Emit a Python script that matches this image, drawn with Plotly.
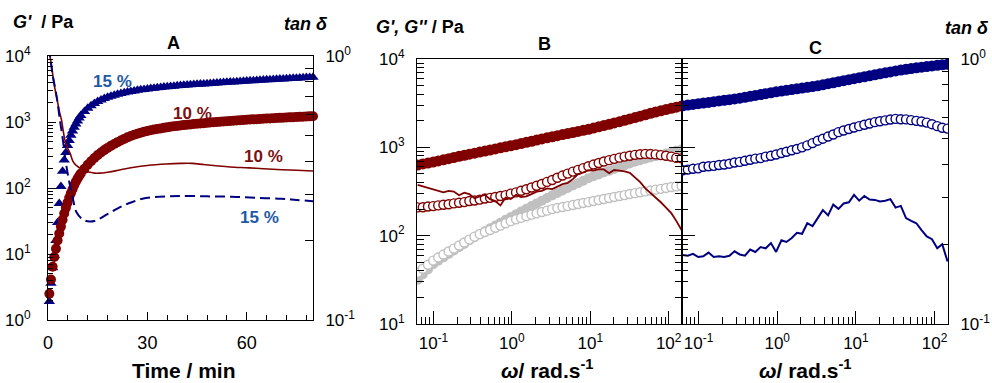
import plotly.graph_objects as go

# ---------------- Panel A: G' and tan(delta) during gelation ----------------
time_min = [0.4, 0.9, 1.4, 1.9, 2.4, 2.9, 3.4, 3.9, 4.4, 4.9,
            5.4, 5.9, 6.4, 6.9, 7.4, 7.9, 8.4, 8.9, 9.4, 9.9,
            11, 12, 13, 14, 15, 16, 17, 18, 19, 20,
            21, 22, 23, 24, 25, 26, 27, 28, 29, 30,
            31, 32, 33, 34, 35, 36, 37, 38, 39, 40,
            41, 42, 43, 44, 45, 46, 47, 48, 49, 50,
            51, 52, 53, 54, 55, 56, 57, 58, 59, 60,
            61, 62, 63, 64, 65, 66, 67, 68, 69, 70,
            71, 72, 73, 74, 75, 76, 77, 78, 79, 80]

g_storage_15 = [1.9, 3.6, 6.2, 9.5, 16, 30, 58, 105, 180, 265,
                345, 440, 525, 630, 730, 830, 930, 1040, 1150, 1250,
                1440, 1610, 1770, 1910, 2040, 2160, 2270, 2370, 2460, 2550,
                2630, 2700, 2770, 2840, 2900, 2960, 3020, 3070, 3120, 3170,
                3220, 3260, 3300, 3340, 3380, 3420, 3460, 3490, 3530, 3560,
                3590, 3630, 3660, 3690, 3720, 3750, 3780, 3810, 3840, 3870,
                3900, 3930, 3960, 3990, 4020, 4050, 4080, 4110, 4140, 4170,
                4200, 4230, 4260, 4290, 4320, 4350, 4380, 4410, 4440, 4470,
                4500, 4530, 4560, 4590, 4620, 4650, 4680, 4710, 4740, 4770]

g_storage_10 = [2.5, 4.1, 6.4, 9.0, 12, 16, 20.5, 26, 33, 41,
                50, 60, 71, 83, 96, 110, 124, 138, 152, 166,
                195, 225, 255, 285, 315, 345, 375, 405, 435, 465,
                495, 525, 555, 585, 615, 640, 665, 690, 710, 730,
                750, 768, 785, 800, 815, 830, 845, 860, 872, 885,
                897, 908, 919, 930, 940, 950, 960, 970, 980, 990,
                1000, 1009, 1018, 1027, 1036, 1045, 1054, 1063, 1072, 1080,
                1088, 1096, 1104, 1112, 1120, 1127, 1134, 1141, 1148, 1155,
                1162, 1169, 1176, 1183, 1190, 1197, 1204, 1211, 1218, 1225]

time_tan_10 = [0.3, 0.6, 1.0, 1.5, 2.1, 2.7, 3.4, 4.1, 4.6, 5.1,
               5.8, 6.6, 7.5, 8.5, 9.6, 11, 12.6, 14, 15.6, 18,
               20.7, 23, 25.5, 30, 35.7, 40, 43.5, 47, 50.7, 55,
               60.7, 65, 70.6, 75, 80]
tan_delta_10 = [1.10, 1.0, 0.93, 0.84, 0.75, 0.69, 0.62, 0.57, 0.52, 0.48,
                0.45, 0.43, 0.40, 0.385, 0.377, 0.368, 0.363, 0.36, 0.36, 0.363,
                0.368, 0.373, 0.378, 0.385, 0.39, 0.392, 0.392, 0.388, 0.384, 0.38,
                0.377, 0.374, 0.371, 0.369, 0.367]

time_tan_15 = [0.3, 0.6, 1.1, 1.6, 2.3, 3.0, 3.6, 4.1, 4.6, 5.1,
               5.6, 6.4, 7.6, 8.6, 10.6, 12.6, 14, 15.6, 17.5, 19.5,
               21.6, 23.5, 25.5, 28.5, 32, 36, 40.5, 48, 55.5, 63,
               70.5, 75, 80]
tan_delta_15 = [1.08, 1.0, 0.90, 0.82, 0.74, 0.65, 0.57, 0.52, 0.47, 0.42,
                0.38, 0.334, 0.285, 0.256, 0.24, 0.236, 0.237, 0.242, 0.25, 0.258,
                0.267, 0.274, 0.28, 0.288, 0.292, 0.294, 0.295, 0.294, 0.293, 0.29,
                0.288, 0.285, 0.282]

# ---------------- Panels B and C: frequency sweeps ----------------
omega = [0.0628, 0.0731, 0.0851, 0.0991, 0.115, 0.134, 0.156, 0.182, 0.212, 0.247,
         0.287, 0.334, 0.389, 0.453, 0.527, 0.614, 0.714, 0.832, 0.968, 1.13,
         1.31, 1.53, 1.78, 2.07, 2.41, 2.81, 3.27, 3.80, 4.43, 5.15,
         6.00, 6.98, 8.13, 9.46, 11.0, 12.8, 14.9, 17.4, 20.2, 23.6,
         27.4, 31.9, 37.2, 43.3, 50.4, 58.6, 68.2, 79.4, 92.5, 108,
         125, 146]

gp_ref = [31.6, 36.3, 41.4, 47.5, 52.0, 56.8, 61.9, 67.8, 74.0, 80.7,
          89, 96, 104, 112, 121, 130, 140, 151, 163, 175,
          188, 202, 216, 232, 249, 267, 286, 305, 324, 346,
          369, 393, 419, 447, 471, 493, 518, 542, 569, 596,
          625, 655, 686, 716, 741, 767, 794, 822, 851, 881,
          912, 944]
gpp_ref = [38.0, 42.2, 46.8, 52.2, 56.5, 61.1, 66.1, 71.4, 77.3, 83.6,
           90.2, 97.5, 104, 110, 116, 123, 130, 138, 146, 153,
           159, 166, 173, 179, 185, 192, 200, 206, 211, 216,
           222, 228, 234, 240, 247, 253, 260, 267, 274, 281,
           288, 296, 303, 310, 317, 324, 332, 339, 347, 355,
           361, 367]

gp_10 = [631, 649, 664, 681, 701, 723, 745, 767, 791, 813,
         836, 859, 883, 908, 933, 959, 986, 1014, 1042, 1072,
         1104, 1138, 1172, 1208, 1245, 1282, 1318, 1355, 1393, 1432,
         1472, 1514, 1556, 1600, 1652, 1706, 1762, 1824, 1888, 1954,
         2023, 2094, 2173, 2254, 2339, 2427, 2512, 2594, 2679, 2767,
         2851, 2931]
gpp_10 = [209, 210, 214, 216, 220, 224, 227, 232, 236, 240,
          247, 250, 256, 263, 268, 274, 281, 288, 299, 309,
          322, 335, 351, 367, 385, 406, 427, 452, 479, 504,
          531, 556, 582, 610, 638, 664, 692, 716, 741, 764,
          785, 804, 822, 836, 843, 841, 832, 817, 804, 785,
          759, 750]
tan_freq_10 = [0.335, 0.331, 0.327, 0.322, 0.320, 0.314, 0.318, 0.316, 0.306, 0.313,
               0.309, 0.298, 0.303, 0.307, 0.296, 0.291, 0.280, 0.300, 0.296, 0.307,
               0.301, 0.303, 0.309, 0.316, 0.318, 0.325, 0.323, 0.330, 0.337, 0.341,
               0.352, 0.368, 0.373, 0.381, 0.379, 0.384, 0.383, 0.371, 0.381, 0.379,
               0.377, 0.372, 0.358, 0.343, 0.325, 0.313, 0.300, 0.288, 0.275, 0.262,
               0.245, 0.226]

gp_15 = [2951, 3006, 3062, 3119, 3170, 3228, 3289, 3350, 3412, 3467,
         3532, 3606, 3690, 3776, 3864, 3954, 4055, 4150, 4246, 4335,
         4416, 4508, 4592, 4688, 4786, 4875, 4977, 5105, 5248, 5383,
         5534, 5675, 5834, 5984, 6138, 6295, 6457, 6622, 6792, 6966,
         7145, 7328, 7499, 7656, 7798, 7943, 8072, 8204, 8337, 8472,
         8590, 8710]
gpp_15 = [550, 560, 573, 578, 603, 610, 617, 631, 638, 653,
          673, 684, 705, 724, 745, 755, 785, 804, 828, 861,
          891, 925, 959, 1000, 1052, 1117, 1189, 1253, 1324, 1396,
          1486, 1549, 1614, 1679, 1738, 1803, 1862, 1928, 1972, 2018,
          2065, 2099, 2080, 2070, 2032, 1995, 1959, 1905, 1828, 1738,
          1667, 1629]
tan_freq_15 = [0.182, 0.181, 0.184, 0.179, 0.180, 0.186, 0.179, 0.180, 0.179, 0.181,
               0.188, 0.183, 0.181, 0.191, 0.187, 0.195, 0.193, 0.202, 0.187, 0.207,
               0.204, 0.211, 0.221, 0.219, 0.240, 0.234, 0.251, 0.269, 0.257, 0.282,
               0.272, 0.285, 0.288, 0.307, 0.292, 0.304, 0.295, 0.294, 0.290, 0.292,
               0.296, 0.275, 0.279, 0.251, 0.245, 0.240, 0.226, 0.214, 0.209, 0.193,
               0.200, 0.172]

# ---------------- styling ----------------
W, H = 992, 383
FONT = "Liberation Sans, Arial, sans-serif"
DARK_RED = "#800000"
NAVY = "#000080"
GRAY = "#c0c0c0"
LABEL_BLUE = "#1d5aa6"
LABEL_RED = "#7d1010"


def sup(exp):
    return "10<sup>%s</sup>" % exp


def decade_minors(lo_exp, hi_exp, lo=None, hi=None):
    vals = []
    for e in range(lo_exp, hi_exp):
        for m in range(2, 10):
            v = m * 10.0 ** e
            if (lo is None or v >= lo) and (hi is None or v <= hi):
                vals.append(v)
    return vals


def px_x(p):
    return p / W


def px_y(p):
    return 1 - p / H


fig = go.Figure()

# Panel A
fig.add_trace(go.Scatter(x=time_min, y=g_storage_15, mode="markers", xaxis="x", yaxis="y",
                         marker=dict(symbol="triangle-up", size=10, color=NAVY, line=dict(width=0)),
                         cliponaxis=False, showlegend=False))
fig.add_trace(go.Scatter(x=time_min, y=g_storage_10, mode="markers", xaxis="x", yaxis="y",
                         marker=dict(symbol="circle", size=10, color=DARK_RED, line=dict(width=0)),
                         cliponaxis=False, showlegend=False))
fig.add_trace(go.Scatter(x=time_tan_10, y=tan_delta_10, mode="lines", xaxis="x", yaxis="y2",
                         line=dict(color=DARK_RED, width=1.6, shape="spline"), showlegend=False))
fig.add_trace(go.Scatter(x=time_tan_15, y=tan_delta_15, mode="lines", xaxis="x", yaxis="y2",
                         line=dict(color=NAVY, width=2, dash="10px,5px", shape="spline"),
                         showlegend=False))

# Panel B
fig.add_trace(go.Scatter(x=omega, y=gp_ref, mode="markers", xaxis="x2", yaxis="y3",
                         marker=dict(symbol="circle", size=10, color=GRAY, line=dict(width=0)),
                         showlegend=False))
fig.add_trace(go.Scatter(x=omega, y=gpp_ref, mode="markers", xaxis="x2", yaxis="y3",
                         marker=dict(symbol="circle", size=9, color="white",
                                     line=dict(color=GRAY, width=1.4)),
                         showlegend=False))
fig.add_trace(go.Scatter(x=omega, y=gp_10, mode="markers", xaxis="x2", yaxis="y3",
                         marker=dict(symbol="circle", size=11, color=DARK_RED, line=dict(width=0)),
                         showlegend=False))
fig.add_trace(go.Scatter(x=omega, y=gpp_10, mode="markers", xaxis="x2", yaxis="y3",
                         marker=dict(symbol="circle", size=9, color="white",
                                     line=dict(color=DARK_RED, width=1.4)),
                         showlegend=False))
fig.add_trace(go.Scatter(x=omega, y=tan_freq_10, mode="lines", xaxis="x2", yaxis="y4",
                         line=dict(color=DARK_RED, width=1.8), showlegend=False))

# Panel C
fig.add_trace(go.Scatter(x=omega, y=gp_15, mode="markers", xaxis="x3", yaxis="y5",
                         marker=dict(symbol="circle", size=11, color=NAVY, line=dict(width=0)),
                         showlegend=False))
fig.add_trace(go.Scatter(x=omega, y=gpp_15, mode="markers", xaxis="x3", yaxis="y5",
                         marker=dict(symbol="circle", size=9, color="white",
                                     line=dict(color=NAVY, width=1.4)),
                         showlegend=False))
fig.add_trace(go.Scatter(x=omega, y=tan_freq_15, mode="lines", xaxis="x3", yaxis="y6",
                         line=dict(color=NAVY, width=2), showlegend=False))

common = dict(showgrid=False, zeroline=False, showline=True, linecolor="black", linewidth=1,
              automargin=False, ticks="inside", tickcolor="black", tickwidth=1,
              tickfont=dict(family=FONT, size=17, color="black"))

a_dom_y = [px_y(320), px_y(56)]
bc_dom_y = [px_y(324), px_y(59)]

freq_ticks = [0.1, 1, 10, 100]
freq_text = [sup("-1"), sup("0"), sup("1"), sup("2")]
freq_minor = decade_minors(-2, 2, lo=0.06, hi=150)
mod_ticks = [10, 100, 1000, 10000]
mod_text = [sup("1"), sup("2"), sup("3"), sup("4")]
mod_minor = decade_minors(1, 4)
tan_minor = decade_minors(-1, 0)

fig.update_layout(
    template="none",
    width=W, height=H, autosize=False,
    margin=dict(l=0, r=0, t=0, b=0, pad=0),
    paper_bgcolor="white", plot_bgcolor="white",
    font=dict(family=FONT, color="black"),
    showlegend=False,
    # Panel A axes
    xaxis=dict(common, domain=[px_x(48), px_x(313)], range=[0, 80], anchor="y", mirror=True,
               tickvals=[0, 30, 60], ticktext=["0", "30", "60"], ticklen=8,
               tickfont=dict(family=FONT, size=18, color="black"), ticklabelstandoff=6,
               minor=dict(tickvals=[6, 12, 18, 24, 36, 42, 48, 54, 66, 72, 78],
                          ticks="inside", ticklen=5, tickcolor="black", tickwidth=1)),
    yaxis=dict(common, domain=a_dom_y, type="log", range=[0, 4], anchor="x",
               tickvals=[1, 10, 100, 1000, 10000],
               ticktext=[sup("0"), sup("1"), sup("2"), sup("3"), sup("4")],
               ticklen=8, ticklabelstandoff=13,
               minor=dict(tickvals=decade_minors(0, 4), ticks="inside", ticklen=5,
                          tickcolor="black", tickwidth=1)),
    yaxis2=dict(common, overlaying="y", side="right", anchor="x", type="log", range=[-1, 0],
                tickvals=[0.1, 1], ticktext=[sup("-1"), sup("0")], ticklen=8,
                ticklabelstandoff=8,
                minor=dict(tickvals=tan_minor, ticks="inside", ticklen=8,
                           tickcolor="black", tickwidth=1)),
    # Panel B axes
    xaxis2=dict(common, domain=[px_x(417), px_x(682)], type="log", range=[-1.21, 2.17],
                anchor="y3", mirror=True, tickvals=freq_ticks, ticktext=freq_text, ticklen=13,
                ticklabelstandoff=4,
                minor=dict(tickvals=freq_minor, ticks="inside", ticklen=7,
                           tickcolor="black", tickwidth=1)),
    yaxis3=dict(common, domain=bc_dom_y, type="log", range=[1, 4], anchor="x2",
                mirror="ticks", tickvals=mod_ticks, ticktext=mod_text, ticklen=13,
                ticklabelstandoff=8,
                minor=dict(tickvals=mod_minor, ticks="inside", ticklen=7,
                           tickcolor="black", tickwidth=1)),
    yaxis4=dict(overlaying="y3", anchor="x2", type="log", range=[-1, 0], visible=False),
    # Panel C axes
    xaxis3=dict(common, domain=[px_x(682), px_x(948)], type="log", range=[-1.21, 2.17],
                anchor="y5", mirror=True, tickvals=freq_ticks, ticktext=freq_text, ticklen=13,
                ticklabelstandoff=4,
                minor=dict(tickvals=freq_minor, ticks="inside", ticklen=7,
                           tickcolor="black", tickwidth=1)),
    yaxis5=dict(common, domain=bc_dom_y, type="log", range=[1, 4], anchor="x3",
                tickvals=mod_ticks, showticklabels=False, ticklen=13,
                minor=dict(tickvals=mod_minor, ticks="inside", ticklen=6,
                           tickcolor="black", tickwidth=1)),
    yaxis6=dict(common, overlaying="y5", side="right", anchor="x3", type="log", range=[-1, 0],
                tickvals=[0.1, 1], ticktext=[sup("-1"), sup("0")], ticklen=7,
                ticklabelstandoff=8,
                minor=dict(tickvals=tan_minor, ticks="inside", ticklen=6,
                           tickcolor="black", tickwidth=1)),
)


def note(text, x, y, size, color="black", xanchor="center"):
    fig.add_annotation(text=text, x=px_x(x), y=px_y(y), xref="paper", yref="paper",
                       xanchor=xanchor, yanchor="middle", showarrow=False,
                       font=dict(family=FONT, size=size, color=color))


# panel letters and axis titles
note("<b>A</b>", 173, 43, 18)
note("<b>B</b>", 544, 44, 18)
note("<b>C</b>", 815, 48, 18)
note("<b><i>G'</i>  / Pa</b>", 11, 22, 18, xanchor="left")
note("<b><i>tan δ</i></b>", 306, 24, 18)
note("<b><i>G', G''</i> / Pa</b>", 374, 27, 18, xanchor="left")
note("<b><i>tan δ</i></b>", 967, 28, 18)
note("<b>Time / min</b>", 183, 370, 21)
note("<b><i>ω</i>/ rad.s<sup>-1</sup></b>", 547, 369, 21)
note("<b><i>ω</i>/ rad.s<sup>-1</sup></b>", 805, 369, 21)

# concentration labels in panel A
note("<b>15 %</b>", 112, 81, 17, color=LABEL_BLUE)
note("<b>10 %</b>", 192, 113, 17, color=LABEL_RED)
note("<b>10 %</b>", 263, 157, 17, color=LABEL_RED)
note("<b>15 %</b>", 259, 217, 17, color=LABEL_BLUE)

fig.write_html("out.html")
